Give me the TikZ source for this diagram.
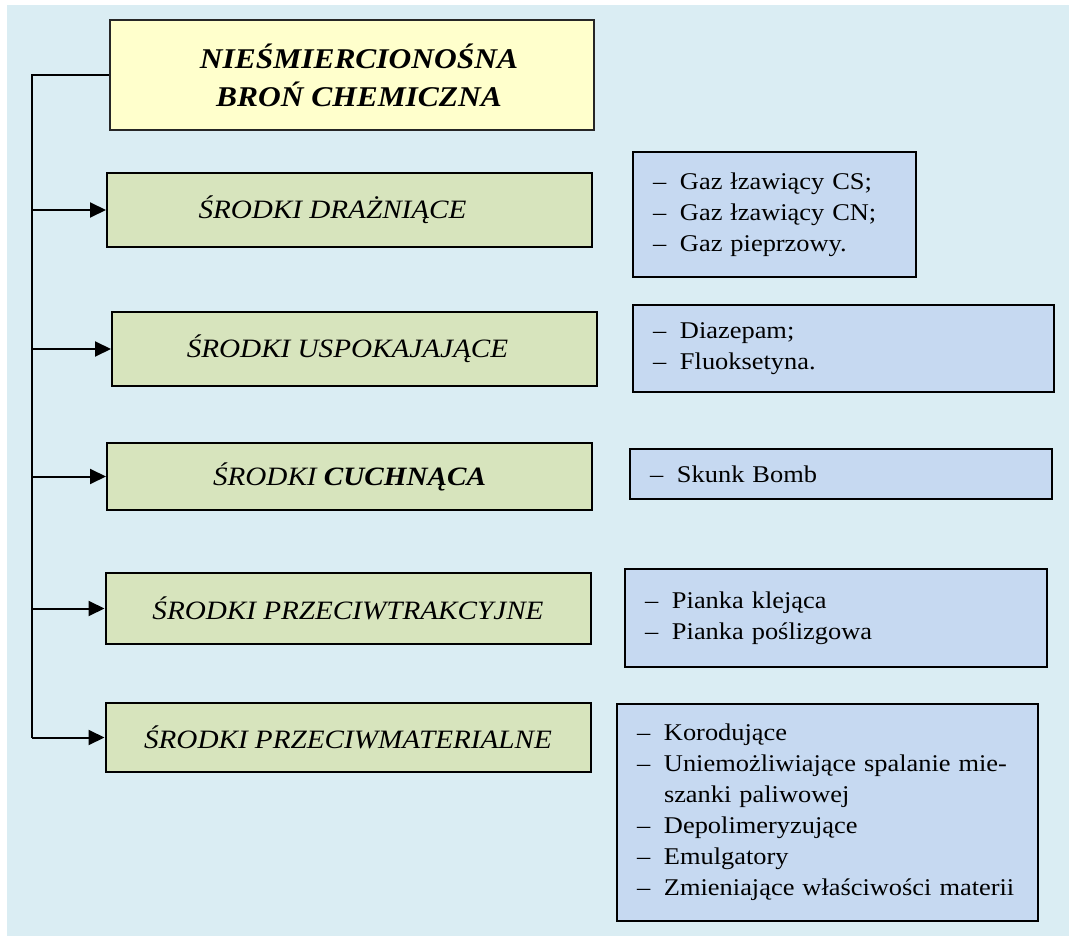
\documentclass[tikz,border=0pt]{standalone}
\usepackage{fontspec}
\setmainfont{Liberation Serif}[FakeStretch=1.1]
\usepackage{xcolor}
\usetikzlibrary{arrows.meta,positioning}

\definecolor{tlo}{HTML}{DAEDF3}
\definecolor{zolty}{HTML}{FFFFCC}
\definecolor{zielony}{HTML}{D7E4BD}
\definecolor{niebieski}{HTML}{C6D9F1}

\newcommand{\pkt}{\makebox[27pt][l]{--}}
\newcommand{\wciecie}{\hspace*{27pt}}

\tikzset{
  glowny/.style={draw=black!85, fill=zolty, line width=2pt, minimum width=484pt,
    minimum height=110pt, align=center, font=\fontsize{28.6}{38}\selectfont\bfseries\itshape},
  srodek/.style={draw, fill=zielony, line width=2pt, minimum width=485pt,
    font=\fontsize{26.5}{30}\selectfont\itshape},
  lista/.style={draw, fill=niebieski, line width=2pt, anchor=north west,
    inner xsep=20pt, align=left, font=\fontsize{24}{31}\selectfont},
  linia/.style={line width=2pt},
  strzalka/.style={line width=2pt, -{Triangle[length=16pt,width=15pt]}},
}

\begin{document}
\begin{tikzpicture}[x=1pt,y=-1pt]
            \useasboundingbox (0,0) rectangle (1069,936);
            \fill[tlo] (7,5) rectangle (1069,936);

            % glowny blok
            \node[glowny] (bron) at (352,75) {\hspace*{14pt}NIEŚMIERCIONOŚNA\\\hspace*{14pt}BROŃ CHEMICZNA};
            \coordinate (pien) at (32,75);

            % grupy srodkow
            \node[srodek, minimum height=74pt] (d1) at (349.5,210) {ŚRODKI DRAŻNIĄCE\hspace*{34pt}};
            \node[srodek, minimum height=74pt] (d2) at (354.5,349) {ŚRODKI USPOKAJAJĄCE\hspace*{14pt}};
            \node[srodek, minimum height=67pt] (d3) at (349.5,476.5) {ŚRODKI \textbf{CUCHNĄCA}};
            \node[srodek, minimum height=71pt] (d4) at (348,608.5) {ŚRODKI PRZECIWTRAKCYJNE};
            \node[srodek, minimum height=69pt] (d5) at (348,737.5) {ŚRODKI PRZECIWMATERIALNE};

            % przyklady
            \node[lista, text width=243pt, minimum height=125pt] (p1) at (632,151)
              {\pkt Gaz łzawiący CS;\\\pkt Gaz łzawiący CN;\\\pkt Gaz pieprzowy.};
            \node[lista, text width=381pt, minimum height=87pt] (p2) at (632,304)
              {\pkt Diazepam;\\\pkt Fluoksetyna.};
            \node[lista, text width=382pt, minimum height=50pt] (p3) at (629,448)
              {\pkt Skunk Bomb};
            \node[lista, text width=382pt, minimum height=98pt] (p4) at (624,568)
              {\pkt Pianka klejąca\\\pkt Pianka poślizgowa};
            \node[lista, text width=381pt, minimum height=217pt] (p5) at (616,703)
              {\pkt Korodujące\\\pkt Uniemożliwiające spalanie mie-\\\wciecie szanki paliwowej\\
               \pkt Depolimeryzujące\\\pkt Emulgatory\\\pkt Zmieniające właściwości materii};

            % polaczenia
            \draw[linia] (bron.west) -- (pien) -- (pien |- d5.west);
            \foreach \i in {1,...,5}
                \draw[strzalka] (pien |- d\i.west) -- (d\i.west);
        \end{tikzpicture}
\end{document}
